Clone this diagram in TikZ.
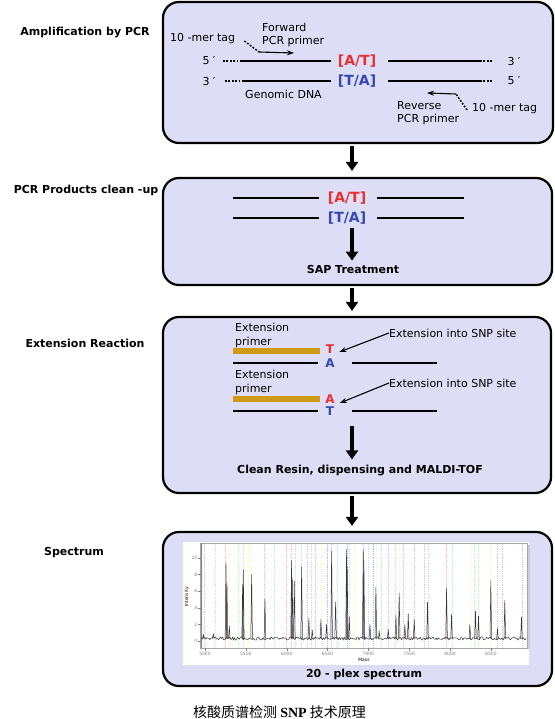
\documentclass[tikz,border=0pt]{standalone}
\usepackage{fontspec}
\setmainfont{DejaVu Sans}
\newfontfamily\cjk{Noto Sans CJK SC}
\newfontfamily\capserif{Liberation Serif}
\usetikzlibrary{arrows.meta, positioning}

\definecolor{panelfill}{RGB}{221,221,246}
\definecolor{snpred}{RGB}{228,48,48}
\definecolor{snpblue}{RGB}{52,72,176}
\definecolor{primergold}{RGB}{206,154,24}
\definecolor{tracegray}{RGB}{55,55,55}

\tikzset{
  panel/.style={draw, line width=2.2pt, fill=panelfill, rounded corners=16pt, inner sep=0pt},
  stepname/.style={font=\fontsize{11}{13}\selectfont\bfseries, inner sep=0pt},
  txt/.style={font=\fontsize{11}{13.5}\selectfont, inner sep=0pt, align=left},
  snp/.style={font=\fontsize{14}{16}\selectfont\bfseries, inner sep=0pt},
  base/.style={font=\fontsize{12}{14}\selectfont\bfseries, inner sep=0pt},
  result/.style={font=\fontsize{11}{13}\selectfont\bfseries, inner sep=0pt},
  strand/.style={line width=1.8pt},
  tagdots/.style={line width=1.8pt, dash pattern=on 1.8pt off 1.6pt},
  primer/.style={line width=6pt, primergold},
  bigarrow/.style={line width=4pt, -{Triangle[width=12pt,length=9pt]}},
  thinarrow/.style={line width=1.1pt, -{Stealth[length=7pt,width=5pt]}},
  trace/.style={tracegray, line width=0.5pt, line join=round},
  ticklab/.style={font=\fontsize{4.5}{5}\selectfont, inner sep=0.6pt}
}

\begin{document}
\begin{tikzpicture}[x=1pt, y=-1pt]
  \useasboundingbox (0,0) rectangle (554,719);

  % Panels
  \node[panel, minimum width=390pt, minimum height=141pt] (amp) at (358,72.5) {};
  \node[panel, minimum width=389pt, minimum height=107pt] (clean) at (357.5,231.5) {};
  \node[panel, minimum width=388pt, minimum height=176pt] (ext) at (357,405) {};
  \node[panel, minimum width=389pt, minimum height=154pt] (spec) at (357.5,609) {};

  % Step names
  \node[stepname] (ampname) at (85,33) {Amplification by PCR};
  \node[stepname] (cleanname) at (86,190) {PCR Products clean -up};
  \node[stepname] (extname) at (85,343) {Extension Reaction};
  \node[stepname] (specname) at (74,553) {Spectrum};

  % Arrows between panels
  \coordinate (spine) at (352,0);
  \draw[bigarrow, shorten <=2pt, shorten >=6pt] (amp.south -| spine) -- (clean.north -| spine);
  \draw[bigarrow, shorten <=2pt, shorten >=5pt] (clean.south -| spine) -- (ext.north -| spine);
  \draw[bigarrow, shorten <=2pt, shorten >=5pt] (ext.south -| spine) -- (spec.north -| spine);

  % Amplification by PCR
  \node[snp, text=snpred] (at) at (357,61) {[A/T]};
  \node[snp, text=snpblue] (ta) at (357,81) {[T/A]};
  \node[txt] (top5) at (209,61) {5 ′};
  \node[txt] (top3) at (514,61) {3 ′};
  \node[txt] (bot3) at (209,81) {3 ′};
  \node[txt] (bot5) at (514,81) {5 ′};
  \coordinate (topL) at (223,61);
  \coordinate (botL) at (225,81);
  \coordinate (topR) at (493,61);
  \coordinate (botR) at (493,81);
  \draw[tagdots] (topL) -- ++(19,0) coordinate (topLs);
  \draw[strand] (topLs) -- ([xshift=-7pt]at.west);
  \draw[strand] ([xshift=12pt]at.east) -- ([xshift=-13pt]topR);
  \draw[tagdots] ([xshift=-13pt]topR) -- (topR);
  \draw[tagdots] (botL) -- ++(19,0) coordinate (botLs);
  \draw[strand] (botLs) -- ([xshift=-7pt]ta.west);
  \draw[strand] ([xshift=12pt]ta.east) -- ([xshift=-13pt]botR);
  \draw[tagdots] ([xshift=-13pt]botR) -- (botR);
  \node[txt] (genomic) at (283.5,94) {Genomic DNA};

  \node[txt, anchor=west] (tagF) at (170,39) {10 -mer tag};
  \node[txt, anchor=west] (fwd) at (262,35) {Forward\\PCR primer};
  \coordinate (fwdbend) at (259,52);
  \coordinate (fwdtip) at (294,53);
  \draw[tagdots, line width=1.5pt] ([xshift=9pt,yshift=-2pt]tagF.east) -- (fwdbend);
  \draw[thinarrow] (fwdbend) -- (fwdtip);

  \node[txt, anchor=west] (tagR) at (472,109) {10 -mer tag};
  \node[txt, anchor=west] (rev) at (397,113) {Reverse\\PCR primer};
  \coordinate (revbend) at (456,94);
  \coordinate (revtip) at (427,93);
  \draw[tagdots, line width=1.5pt] ([xshift=-5pt,yshift=-1pt]tagR.west) -- (revbend);
  \draw[thinarrow] (revbend) -- (revtip);

  % PCR Products clean-up
  \node[snp, text=snpred] (at2) at (347,198) {[A/T]};
  \node[snp, text=snpblue] (ta2) at (347,218) {[T/A]};
  \draw[strand] (233,198) -- ([xshift=-9pt]at2.west);
  \draw[strand] ([xshift=11pt]at2.east) -- (464,198);
  \draw[strand] (233,218) -- ([xshift=-9pt]ta2.west);
  \draw[strand] ([xshift=11pt]ta2.east) -- (464,218);
  \node[result] (sap) at (353,269) {SAP Treatment};
  \draw[bigarrow, shorten <=4pt, shorten >=4pt] (ta2.south -| spine) -- (sap.north -| spine);

  % Extension Reaction
  \node[txt, anchor=west] (prim1) at (235,335.5) {Extension\\primer};
  \draw[primer] (233,351) -- (320,351);
  \node[base, text=snpred] (ext1T) at (330,349) {T};
  \node[base, text=snpblue] (ext1A) at (330,363) {A};
  \draw[strand] (233,363) -- (318,363);
  \draw[strand] (352,363) -- (437,363);
  \node[txt, anchor=west] (snp1) at (389,333) {Extension into SNP site};
  \draw[thinarrow] (snp1.west) -- ([xshift=5pt,yshift=-3pt]ext1T.east);

  \node[txt, anchor=west] (prim2) at (235,382.5) {Extension\\primer};
  \draw[primer] (233,399) -- (320,399);
  \node[base, text=snpred] (ext2A) at (330,399) {A};
  \node[base, text=snpblue] (ext2T) at (330,411) {T};
  \draw[strand] (233,411) -- (318,411);
  \draw[strand] (352,411) -- (437,411);
  \node[txt, anchor=west] (snp2) at (389,383) {Extension into SNP site};
  \draw[thinarrow] (snp2.west) -- ([xshift=5pt,yshift=-4pt]ext2A.east);

  \node[result] (maldi) at (360,471) {Clean Resin, dispensing and MALDI-TOF};
  \coordinate (lowstrand) at (352,418);
  \draw[bigarrow, shorten <=8pt, shorten >=6pt] (lowstrand) -- (maldi.north -| spine);

  % Spectrum
  \fill[white] (183,542) rectangle (529,665);
  \node[result] (plex) at (364,674) {20 - plex spectrum};
  \node[ticklab, rotate=90] (intensity) at (187,597) {Intensity};
  \node[ticklab] (mass) at (364,660) {Mass};
  \begin{scope}[shift={(-203.5,641)}, x=0.0817pt, y=8.3pt]
    \fill[gray!40] (8941,11.6) rectangle (8975,-0.95);
    \foreach \m/\c in {4990/red, 5130/green, 5250/red, 5300/yellow, 5410/green,
        5470/green, 5530/yellow, 5570/yellow, 5730/magenta, 5850/cyan,
        5990/magenta, 6060/magenta, 6100/cyan, 6180/cyan, 6250/magenta,
        6300/cyan, 6350/magenta, 6420/yellow, 6490/blue, 6550/magenta,
        6620/cyan, 6740/blue, 6770/cyan, 6830/yellow, 6940/magenta,
        7000/cyan, 7060/blue, 7100/yellow, 7160/cyan, 7240/magenta,
        7330/cyan, 7380/yellow, 7430/magenta, 7560/magenta, 7680/magenta,
        7730/cyan, 7950/magenta, 8020/cyan, 8240/yellow, 8300/cyan,
        8340/green, 8490/yellow, 8580/magenta, 8640/magenta, 8880/magenta}
      \draw[\c!30, line width=0.35pt, dash pattern=on 1pt off 0.8pt] (\m,-0.8) -- (\m,11.7);
    \draw[gray!70, line width=0.4pt] (4939,-0.84) rectangle (8941,11.8);
    \draw[gray, line width=0.3pt] (4950,-0.84) -- (4950,11.8);
    \foreach \v in {0,2,...,10}
      \draw[gray, line width=0.3pt] (4950,\v) -- (4915,\v) node[ticklab, anchor=east] {\v};
    \foreach \m in {5000,5500,...,8500}
      \draw[gray, line width=0.3pt] (\m,-0.84) -- (\m,-1.2) node[ticklab, anchor=north] {\m};
    % baseline noise
    \pgfmathsetseed{7}
    \draw[trace] plot[domain=4950:8930, samples=330] (\x,{0.3+0.2*rand});
    % peaks
    \foreach \m/\h in {4980/0.8, 5102/0.9, 5257/9.4, 5269/7.0, 5298/1.8,
        5461/6.8, 5469/8.6, 5571/8.0, 5734/5.1, 6060/9.7, 6068/7.5, 6093/7.2,
        6183/8.9, 6272/2.8, 6313/1.3, 6419/2.6, 6488/2.0, 6550/10.8, 6599/4.7,
        6733/11.0, 6741/9.0, 6766/2.9, 6937/11.0, 6945/9.8, 7019/2.0, 7092/6.5,
        7133/1.2, 7243/1.4, 7337/3.1, 7377/5.8, 7447/2.0, 7488/3.3, 7561/2.6,
        7724/4.7, 7957/6.4, 8018/3.2, 8242/2.0, 8311/3.6, 8348/3.0, 8499/7.3,
        8580/1.5, 8670/4.9, 8874/2.9}
      \draw[trace] (\m-10,0.3) -- (\m,\h) -- (\m+10,0.25);
  \end{scope}

  % Caption
  \node[font=\fontsize{14}{16}\selectfont\cjk, inner sep=0pt] (caption) at (279.5,712)
    {核酸质谱检测 {\capserif\bfseries SNP} 技术原理};
\end{tikzpicture}
\end{document}
